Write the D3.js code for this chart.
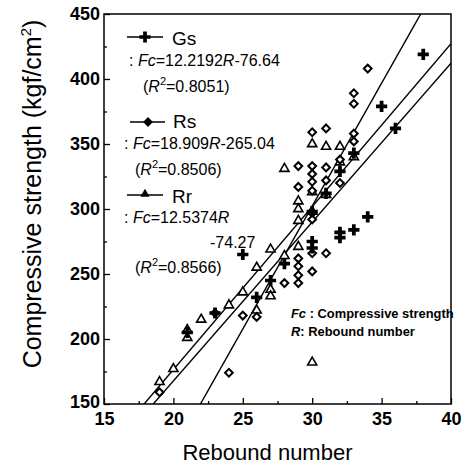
<!DOCTYPE html>
<html>
<head>
<meta charset="utf-8">
<script src="https://cdn.jsdelivr.net/npm/d3@7"></script>
<style>
  body { margin: 0; background: #fff; }
  svg text { font-family: "Liberation Sans", Arial, sans-serif; fill: #000; }
</style>
</head>
<body>
<div id="chart"></div>
<script>
// --- data ---
const xTicks = [15, 20, 25, 30, 35, 40];
const yTicks = [150, 200, 250, 300, 350, 400, 450];
const xMinor = [17.5, 22.5, 27.5, 32.5, 37.5];
const yMinor = [175, 225, 275, 325, 375, 425];

// Gs : plus markers  [rebound, strength]
const gsPoints = [
  [38, 419], [35, 379], [36, 362], [34, 294], [33, 284], [32, 282], [32, 278],
  [30, 275], [30, 270], [25, 265], [33, 343], [32, 329], [31, 312], [30, 298],
  [28, 258], [27, 245], [26, 232], [23, 220], [21, 205]
];
// Rs : diamond markers
const rsPoints = [
  [34, 408], [33, 389], [33, 381], [30, 359], [31, 362], [29, 333], [30, 333],
  [31, 332], [29, 317], [30, 327], [30, 321], [30, 314], [31, 322], [32, 338],
  [32, 320], [33, 358], [33, 352], [30, 297], [30, 292], [30, 266], [31, 266],
  [30, 252], [29, 262], [29, 256], [29, 249], [29, 243], [28, 243], [26, 217],
  [25, 218], [24, 174], [19, 159], [23, 220]
];
// Rr : triangle markers
const rrPoints = [
  [28, 331], [30, 350], [31, 348], [32, 348], [29, 306], [29, 300], [29, 291],
  [30, 298], [31, 311], [29, 271], [27, 269], [28, 264], [26, 255], [27, 238],
  [27, 233], [26, 222], [24, 226], [22, 215], [21, 207], [21, 201], [20, 177],
  [19, 167], [30, 182], [33, 340], [32, 336], [30, 313], [25, 236]
];
// fitted lines: Fc = a*R + b
const fits = [
  { name: "Gs", a: 12.2192, b: -76.64 },
  { name: "Rs", a: 18.909, b: -265.04 },
  { name: "Rr", a: 12.5374, b: -74.27 }
];

const width = 465, height = 468;
const x = d3.scaleLinear().domain([15, 40]).range([104, 451]);
const y = d3.scaleLinear().domain([150, 450]).range([404, 14]);

const svg = d3.select("#chart").append("svg")
  .attr("width", width).attr("height", height);

svg.append("clipPath").attr("id", "plot")
  .append("rect")
  .attr("x", x(15)).attr("y", y(450))
  .attr("width", x(40) - x(15)).attr("height", y(150) - y(450));

// axes (ticks pointing inward)
const xAxis = svg.append("g").attr("transform", `translate(0,${y(150)})`)
  .call(d3.axisBottom(x).tickValues(xTicks).tickSize(-6).tickPadding(8));
svg.append("g").attr("transform", `translate(0,${y(150)})`)
  .call(d3.axisBottom(x).tickValues(xMinor).tickSize(-3).tickFormat(""));
const yAxis = svg.append("g").attr("transform", `translate(${x(15)},0)`)
  .call(d3.axisLeft(y).tickValues(yTicks).tickSize(-6).tickPadding(4));
svg.append("g").attr("transform", `translate(${x(15)},0)`)
  .call(d3.axisLeft(y).tickValues(yMinor).tickSize(-3).tickFormat(""));

svg.selectAll(".domain").remove();
svg.selectAll(".tick line").attr("stroke", "#000").attr("stroke-width", 1.3);
xAxis.selectAll("text").attr("font-size", 18).attr("font-weight", "bold")
  .attr("font-family", "Liberation Sans, Arial, sans-serif");
yAxis.selectAll("text").attr("font-size", 18).attr("font-weight", "bold")
  .attr("font-family", "Liberation Sans, Arial, sans-serif");
yAxis.selectAll(".tick").filter(d => d === 150).select("text").attr("dy", "0.2em");

// frame
svg.append("rect")
  .attr("x", x(15)).attr("y", y(450))
  .attr("width", x(40) - x(15)).attr("height", y(150) - y(450))
  .attr("fill", "none").attr("stroke", "#000").attr("stroke-width", 1.5);

// axis titles
svg.append("text")
  .attr("x", (x(15) + x(40)) / 2 - 10).attr("y", 460)
  .attr("text-anchor", "middle").attr("font-size", 22)
  .text("Rebound number");

const yt = svg.append("text")
  .attr("transform", `translate(41,${(y(150) + y(450)) / 2 - 15}) rotate(-90)`)
  .attr("text-anchor", "middle").attr("font-size", 25);
yt.append("tspan").text("Compressive strength (kgf/cm");
yt.append("tspan").attr("font-size", 15).attr("dy", -10).text("2");
yt.append("tspan").attr("dy", 10).text(")");

// fitted lines
const lineG = svg.append("g").attr("clip-path", "url(#plot)");
fits.forEach(f => {
  lineG.append("line")
    .attr("x1", x(15)).attr("y1", y(f.a * 15 + f.b))
    .attr("x2", x(40)).attr("y2", y(f.a * 40 + f.b))
    .attr("stroke", "#000").attr("stroke-width", 1.4);
});

// markers
const plus = d3.symbol().type(d3.symbolCross).size(70);
const diamond = d3.symbol().type(d3.symbolSquare).size(30);
const tri = d3.symbol().type(d3.symbolTriangle).size(36);

const pts = svg.append("g").attr("clip-path", "url(#plot)");
pts.selectAll(".rr").data(rrPoints).join("path")
  .attr("d", tri)
  .attr("transform", d => `translate(${x(d[0])},${y(d[1])})`)
  .attr("fill", "#fff").attr("stroke", "#000").attr("stroke-width", 1.6);
pts.selectAll(".rs").data(rsPoints).join("path")
  .attr("d", diamond)
  .attr("transform", d => `translate(${x(d[0])},${y(d[1])}) rotate(45)`)
  .attr("fill", "#fff").attr("stroke", "#000").attr("stroke-width", 2);
pts.selectAll(".gs").data(gsPoints).join("path")
  .attr("d", plus)
  .attr("transform", d => `translate(${x(d[0])},${y(d[1])})`)
  .attr("fill", "#000");

// legend
function legendLine(yy, x1, x2) {
  svg.append("line").attr("x1", x1).attr("x2", x2).attr("y1", yy).attr("y2", yy)
    .attr("stroke", "#000").attr("stroke-width", 1.6);
}
legendLine(37, 127, 163);
svg.append("path").attr("d", plus).attr("transform", "translate(145,37)").attr("fill", "#000");
legendLine(122, 130, 165);
svg.append("path").attr("d", diamond).attr("transform", "translate(148,122) rotate(45)")
  .attr("fill", "#000").attr("stroke", "#000").attr("stroke-width", 1.5);
legendLine(195, 127, 163);
svg.append("path").attr("d", tri).attr("transform", "translate(145,194)").attr("fill", "#000");

function label(tx, ty, txt, size) {
  return svg.append("text").attr("x", tx).attr("y", ty).attr("font-size", size).text(txt);
}
label(172, 45, "Gs", 19);
label(173, 128, "Rs", 19);
label(172, 203, "Rr", 19);

const eqSize = 16;
function eq(tx, ty, coef, rest) {
  const t = svg.append("text").attr("x", tx).attr("y", ty).attr("font-size", eqSize);
  t.append("tspan").text(": ");
  t.append("tspan").attr("font-style", "italic").text("Fc");
  t.append("tspan").text("=" + coef);
  t.append("tspan").attr("font-style", "italic").text("R");
  if (rest) t.append("tspan").text(rest);
}
function r2(tx, ty, val) {
  const t = svg.append("text").attr("x", tx).attr("y", ty).attr("font-size", eqSize);
  t.append("tspan").text("(");
  t.append("tspan").attr("font-style", "italic").text("R");
  t.append("tspan").attr("font-size", 11).attr("dy", -7).text("2");
  t.append("tspan").attr("dy", 7).text("=" + val + ")");
}
eq(129, 66, "12.2192", "-76.64");
r2(143, 92, "0.8051");
eq(124, 149, "18.909", "-265.04");
r2(135, 175, "0.8506");
eq(124, 223, "12.5374", "");
label(210, 248, "-74.27", eqSize);
r2(135, 273, "0.8566");

// note
const n1 = svg.append("text").attr("x", 291).attr("y", 318).attr("font-size", 12.9).attr("font-weight", "bold");
n1.append("tspan").attr("font-style", "italic").text("Fc");
n1.append("tspan").text(" : Compressive strength");
const n2 = svg.append("text").attr("x", 291).attr("y", 336).attr("font-size", 12.9).attr("font-weight", "bold");
n2.append("tspan").attr("font-style", "italic").text("R");
n2.append("tspan").text(": Rebound number");
</script>
</body>
</html>
